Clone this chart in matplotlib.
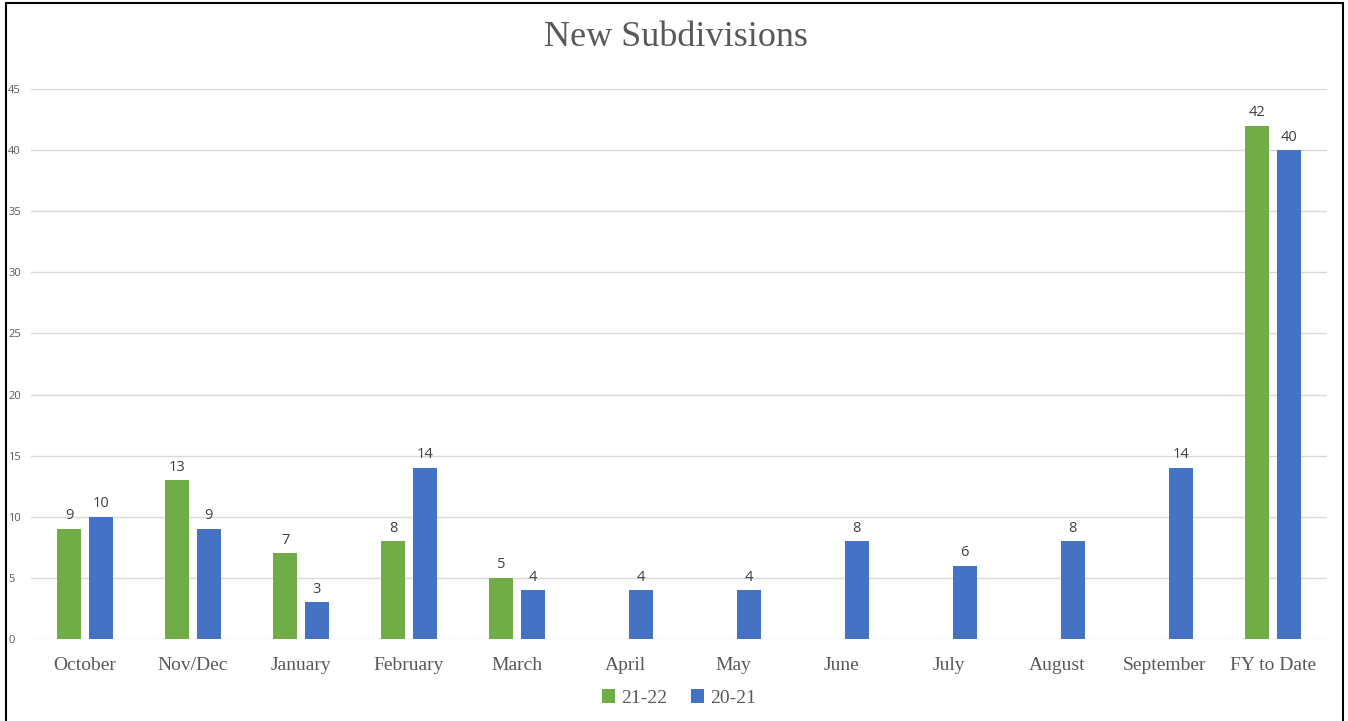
import numpy as np
import matplotlib.pyplot as plt
from matplotlib.patches import Rectangle

# datos del grafico
categorias = ['October', 'Nov/Dec', 'January', 'February', 'March', 'April', 'May',
              'June', 'July', 'August', 'September', 'FY to Date']
serie_2122 = [9, 13, 7, 8, 5, None, None, None, None, None, None, 42]
serie_2021 = [10, 9, 3, 14, 4, 4, 4, 8, 6, 8, 14, 40]
nombres = ['21-22', '20-21']
colores = ['#70AD47', '#4472C4']
yticks = [0, 5, 10, 15, 20, 25, 30, 35, 40, 45]

gris = '#595959'
fig = plt.figure(figsize=(13.48, 7.21), dpi=100)
ax = fig.add_axes([31/1348, 1-639/721, 1296/1348, 550/721])

x = np.arange(len(categorias))
ancho = 0.222
desp = 0.144
for serie, nombre, color, d in zip([serie_2122, serie_2021], nombres, colores, [-desp, desp]):
    xs = [xi + d for xi, v in zip(x, serie) if v is not None]
    vs = [v for v in serie if v is not None]
    barras = ax.bar(xs, vs, width=ancho, color=color, label=nombre, zorder=3)
    ax.bar_label(barras, padding=4, fontsize=10.5, color='#404040', family='Open Sans')

ax.set_xlim(-0.5, len(categorias) - 0.5)
ax.set_ylim(0, 45)
ax.set_yticks(yticks)
ax.grid(axis='y', color='#D9D9D9', linewidth=1, zorder=0)
for s in ax.spines.values():
    s.set_visible(False)
ax.tick_params(axis='both', length=0)
ax.set_xticks(x)
ax.set_xticklabels(categorias, family='Liberation Serif', fontsize=14, color=gris)
ax.tick_params(axis='x', pad=13)
ax.set_yticklabels([str(t) for t in yticks], fontsize=8, color=gris, family='Open Sans')
for lbl in ax.get_yticklabels():
    lbl.set_horizontalalignment('left')
ax.tick_params(axis='y', pad=16.5)

fig.text(676/1348, 1-38/721, 'New Subdivisions', ha='center', va='center',
         family='Liberation Serif', fontsize=26, color=gris)

ax.legend(loc='center', bbox_to_anchor=(679/1348, 1-698/721), bbox_transform=fig.transFigure,
          ncol=2, frameon=False, handlelength=0.7, handleheight=0.7, handletextpad=0.3,
          columnspacing=1.2, prop={'family': 'Liberation Serif', 'size': 14},
          labelcolor=gris)

fig.patches.append(Rectangle((6/1348, -0.01), 1337/1348, 1-3/721+0.01, transform=fig.transFigure,
                             fill=False, edgecolor='black', linewidth=1.5))

fig.savefig('out.png', dpi=100)
plt.close()
